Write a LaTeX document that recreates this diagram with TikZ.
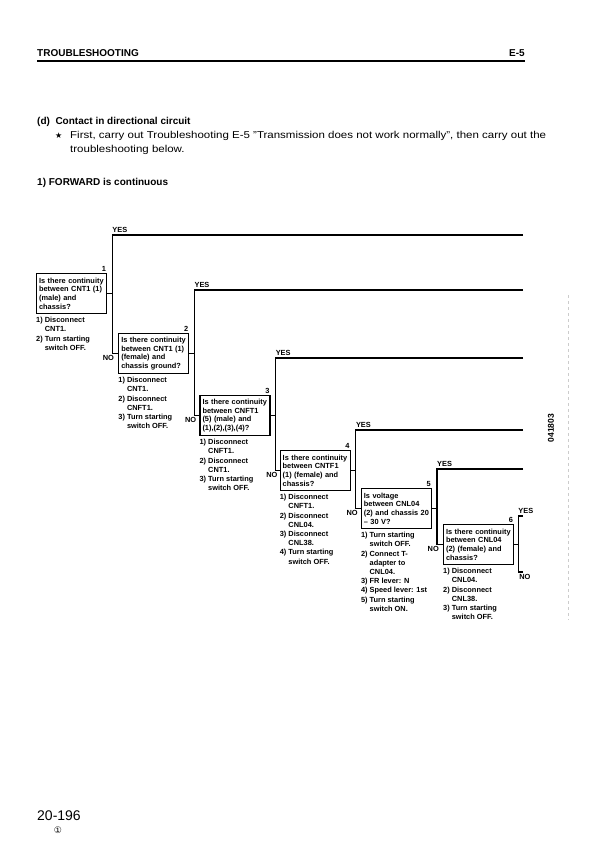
\documentclass[tikz,border=0pt]{standalone}
\usepackage{fontspec}
\setmainfont{Liberation Sans}
\newfontfamily\symbolfont{DejaVu Sans}
\usetikzlibrary{calc, positioning}

\newcommand{\ind}{\hphantom{1)~}}

\begin{document}
\begin{tikzpicture}[
    x=1pt, y=-1pt,
    qbox/.style={rectangle, draw, line width=1.2pt, text width=65pt, inner sep=2.5pt, minimum height=40pt, align=left, font=\fontsize{7.4}{8.7}\selectfont\bfseries},
    note/.style={inner sep=0pt, align=left, font=\fontsize{7.4}{9.2}\selectfont\bfseries},
    num/.style={inner sep=1pt, font=\fontsize{7.4}{8}\selectfont\bfseries},
    answer/.style={inner sep=0pt, font=\fontsize{7.4}{8}\selectfont\bfseries},
    wire/.style={line width=1.2pt},
    head/.style={anchor=base west, inner sep=0pt, font=\fontsize{10}{12}\selectfont\bfseries},
    body/.style={anchor=base west, inner sep=0pt, font=\fontsize{10}{12}\selectfont\addfontfeature{FakeStretch=1.15}}
]
\useasboundingbox[fill=white] (0,0) rectangle (596,843);

% page header
\node[head] (title) at (37,57) {TROUBLESHOOTING};
\node[head, anchor=base east] (sect) at (525,57) {E-5};
\coordinate (r1) at (37,61);
\coordinate (r2) at (525,61);
\draw[line width=1.2pt] (r1) -- (r2);

\node[head] (sub) at (37,124) {(d)\ \ Contact in directional circuit};
\node[body, font=\symbolfont\fontsize{8}{10}\selectfont] (star) at (55,138) {★};
\node[body] (intro1) at (70,138) {First, carry out Troubleshooting E-5 "Transmission does not work normally", then carry out the};
\node[body] (intro2) at (70,152) {troubleshooting below.};
\node[head] (case) at (37,185) {1) FORWARD is continuous};

% check boxes
\node[qbox, anchor=north west] (q1) at (36,273) {Is there continuity\\between CNT1 (1)\\(male) and\\chassis?};
\node[qbox, right=11pt of q1, yshift=-60pt] (q2) {Is there continuity\\between CNT1 (1)\\(female) and\\chassis ground?};
\node[qbox, right=10pt of q2, yshift=-62pt] (q3) {Is there continuity\\between CNFT1\\(5) (male) and\\(1),(2),(3),(4)?};
\node[qbox, right=9pt of q3, yshift=-55pt] (q4) {Is there continuity\\between CNTF1\\(1) (female) and\\chassis?};
\node[qbox, right=10pt of q4, yshift=-38pt] (q5) {Is voltage\\between CNL04\\(2) and chassis 20\\-- 30 V?};
\node[qbox, right=11pt of q5, yshift=-36pt] (q6) {Is there continuity\\between CNL04\\(2) (female) and\\chassis?};

\node[num, above left=0pt of q1.north east] (c1) {1};
\node[num, above left=0pt of q2.north east] (c2) {2};
\node[num, above left=0pt of q3.north east] (c3) {3};
\node[num, above left=0pt of q4.north east] (c4) {4};
\node[num, above left=0pt of q5.north east] (c5) {5};
\node[num, above left=0pt of q6.north east] (c6) {6};

% preparations under each box
\node[note, below right=3pt and 0pt of q1.south west] (p1) {1) Disconnect\\\ind CNT1.\\2) Turn starting\\\ind switch OFF.};
\node[note, below right=3pt and 0pt of q2.south west] (p2) {1) Disconnect\\\ind CNT1.\\2) Disconnect\\\ind CNFT1.\\3) Turn starting\\\ind switch OFF.};
\node[note, below right=3pt and 0pt of q3.south west] (p3) {1) Disconnect\\\ind CNFT1.\\2) Disconnect\\\ind CNT1.\\3) Turn starting\\\ind switch OFF.};
\node[note, below right=3pt and 0pt of q4.south west] (p4) {1) Disconnect\\\ind CNFT1.\\2) Disconnect\\\ind CNL04.\\3) Disconnect\\\ind CNL38.\\4) Turn starting\\\ind switch OFF.};
\node[note, below right=3pt and 0pt of q5.south west] (p5) {1) Turn starting\\\ind switch OFF.\\2) Connect T-\\\ind adapter to\\\ind CNL04.\\3) FR lever: N\\4) Speed lever: 1st\\5) Turn starting\\\ind switch ON.};
\node[note, below right=3pt and 0pt of q6.south west] (p6) {1) Disconnect\\\ind CNL04.\\2) Disconnect\\\ind CNL38.\\3) Turn starting\\\ind switch OFF.};

% YES / NO branches
\coordinate (j1) at ([xshift=5pt]q1.east);
\coordinate (j2) at ([xshift=5pt]q2.east);
\coordinate (j3) at ([xshift=5pt]q3.east);
\coordinate (j4) at ([xshift=5pt]q4.east);
\coordinate (j5) at ([xshift=5pt]q5.east);
\coordinate (j6) at ([xshift=4pt]q6.east);

\coordinate (e1) at (523,235);
\coordinate (e2) at (523,290);
\coordinate (e3) at (523,358);
\coordinate (e4) at (523,430);
\coordinate (e5) at (523,469);
\coordinate (e6) at (523,516);
\coordinate (f6) at (523,572);

\coordinate (t1) at (j1 |- e1);
\coordinate (t2) at (j2 |- e2);
\coordinate (t3) at (j3 |- e3);
\coordinate (t4) at (j4 |- e4);
\coordinate (t5) at (j5 |- e5);
\coordinate (t6) at (j6 |- e6);

\coordinate (n2) at (j1 |- q2.west);
\coordinate (n3) at (j2 |- q3.west);
\coordinate (n4) at (j3 |- q4.west);
\coordinate (n5) at (j4 |- q5.west);
\coordinate (n6) at (j5 |- q6.west);
\coordinate (b6) at (j6 |- f6);

\draw[wire] (q1.east) -- (j1);
\draw[wire] (q2.east) -- (j2);
\draw[wire] (q3.east) -- (j3);
\draw[wire] (q4.east) -- (j4);
\draw[wire] (q5.east) -- (j5);
\draw[wire] (q6.east) -- (j6);

\draw[wire] (e1) -- (t1) -- (n2) -- (q2.west);
\draw[wire] (e2) -- (t2) -- (n3) -- (q3.west);
\draw[wire] (e3) -- (t3) -- (n4) -- (q4.west);
\draw[wire] (e4) -- (t4) -- (n5) -- (q5.west);
\draw[wire] (e5) -- (t5) -- (n6) -- (q6.west);
\draw[wire] (e6) -- (t6) -- (b6) -- (f6);

\node[answer, anchor=south west] (yes1) at ([yshift=2.5pt]t1) {YES};
\node[answer, anchor=south west] (yes2) at ([yshift=2.5pt]t2) {YES};
\node[answer, anchor=south west] (yes3) at ([yshift=2.5pt]t3) {YES};
\node[answer, anchor=south west] (yes4) at ([yshift=2.5pt]t4) {YES};
\node[answer, anchor=south west] (yes5) at ([yshift=2.5pt]t5) {YES};
\node[answer, anchor=south west] (yes6) at ([yshift=2.5pt]t6) {YES};

\node[answer, anchor=north east] (no2) at ([xshift=2pt, yshift=-2pt]n2) {NO};
\node[answer, anchor=north east] (no3) at ([xshift=2pt, yshift=-2pt]n3) {NO};
\node[answer, anchor=north east] (no4) at ([xshift=2pt, yshift=-2pt]n4) {NO};
\node[answer, anchor=north east] (no5) at ([xshift=2pt, yshift=-2pt]n5) {NO};
\node[answer, anchor=north east] (no6) at ([xshift=2pt, yshift=-2pt]n6) {NO};
\node[answer, anchor=north west] (no7) at ([xshift=1pt, yshift=-2.5pt]b6) {NO};

% margin marks
\node[head, anchor=center, rotate=90, font=\fontsize{8.5}{10}\selectfont\bfseries] (fig) at (551,428) {041803};
\draw[gray!40, dashed, line width=0.4pt] (568,295) -- (568,620);

% page footer
\node[body, font=\fontsize{14}{16}\selectfont] (page) at (37,820) {20-196};
\node[inner sep=0pt, font=\symbolfont\fontsize{9}{10}\selectfont] (rev) at (58,830) {①};

\end{tikzpicture}
\end{document}
